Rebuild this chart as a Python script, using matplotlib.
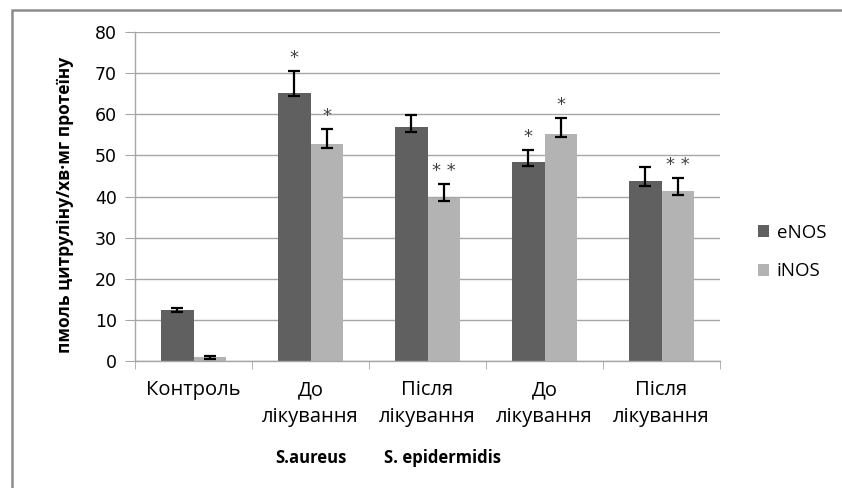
import matplotlib

matplotlib.use("Agg")
import matplotlib.pyplot as plt
import numpy as np
from matplotlib.patches import Rectangle
from matplotlib.transforms import blended_transform_factory

plt.rcParams["font.family"] = ["Open Sans", "DejaVu Sans"]

categories = ["Контроль", "До\nлікування", "Після\nлікування", "До\nлікування", "Після\nлікування"]
groups = ["S.aureus", "S. epidermidis"]
group_pos = [1.0, 2.13]
series = ["eNOS", "iNOS"]

enos = [12.3, 65.1, 56.8, 48.5, 43.7]
enos_lo = [11.8, 64.5, 55.6, 47.4, 42.6]
enos_hi = [12.8, 70.5, 59.9, 51.4, 47.2]
enos_marks = ["", "*", "", "*", ""]

inos = [0.9, 52.7, 39.7, 55.3, 41.4]
inos_lo = [0.4, 51.9, 38.9, 54.4, 40.4]
inos_hi = [1.3, 56.4, 43.0, 59.1, 44.5]
inos_marks = ["", "*", "**", "*", "**"]

ENOS_C = "#606060"
INOS_C = "#b3b3b3"
GRID_C = "#a6a6a6"

fig = plt.figure(figsize=(8.42, 4.88), dpi=100)
# outer chart-area frame (cropped on right/bottom in the original)
fig.patches.append(Rectangle((12 / 842, -0.1), 1.2, 1 - 10 / 488 + 0.1, fill=False,
                             edgecolor="#8c8c8c", lw=1.8, transform=fig.transFigure))

ax = fig.add_axes([135 / 842, 1 - 361 / 488, 585 / 842, 329 / 488])
x = np.arange(len(categories))
w = 0.28

ax.bar(x - w / 2, enos, w, color=ENOS_C, label=series[0], zorder=2)
ax.bar(x + w / 2, inos, w, color=INOS_C, label=series[1], zorder=2)

for xs, v, lo, hi in [(x - w / 2, enos, enos_lo, enos_hi), (x + w / 2, inos, inos_lo, inos_hi)]:
    v = np.array(v)
    yerr = [v - np.array(lo), np.array(hi) - v]
    ax.errorbar(xs, v, yerr=yerr, fmt="none", ecolor="black", elinewidth=1.6,
                capsize=4.5, capthick=1.6, zorder=3)

for xs, hi, marks in [(x - w / 2, enos_hi, enos_marks), (x + w / 2, inos_hi, inos_marks)]:
    for xi, h, m in zip(xs, hi, marks):
        if m:
            ax.text(xi, h + 1.0, " ".join(m), ha="center", va="bottom",
                    fontsize=13, color="#404040", family="DejaVu Sans")

ax.set_ylim(0, 80)
ax.set_xlim(-0.5, len(categories) - 0.5)
ax.set_yticks(np.arange(0, 81, 10))
ax.yaxis.grid(True, color=GRID_C, lw=1.0, zorder=0)
ax.set_axisbelow(True)

for s in ["top", "right"]:
    ax.spines[s].set_visible(False)
for s in ["left", "bottom"]:
    ax.spines[s].set_color(GRID_C)
    ax.spines[s].set_linewidth(1.0)

ax.tick_params(axis="y", length=7, color=GRID_C, pad=6)
for lab in ax.get_yticklabels():
    lab.set_family("DejaVu Sans")
    lab.set_fontsize(12.5)
ax.set_xticks(x)
ax.set_xticklabels(categories, fontsize=14.5, linespacing=1.45)
ax.tick_params(axis="x", which="major", length=0, pad=14)
ax.set_xticks(np.arange(-0.5, len(categories), 1.0), minor=True)
ax.tick_params(axis="x", which="minor", length=6, color=GRID_C)

ax.set_ylabel("пмоль цитруліну/хв·мг протеїну", fontsize=12.5, fontweight="bold", labelpad=15)
ax.yaxis.label.set_y(0.475)

tr = blended_transform_factory(ax.transData, fig.transFigure)
for g, gx in zip(groups, group_pos):
    ax.text(gx, 1 - 458 / 488, g, transform=tr, ha="center", va="center",
            fontsize=12, fontweight="bold")

fig.legend(loc="center left", bbox_to_anchor=(741 / 842, 1 - 252 / 488), frameon=False,
           fontsize=13.5, handlelength=0.6, handleheight=0.6, handletextpad=0.4,
           labelspacing=1.1)

fig.savefig("out.png", dpi=100)
